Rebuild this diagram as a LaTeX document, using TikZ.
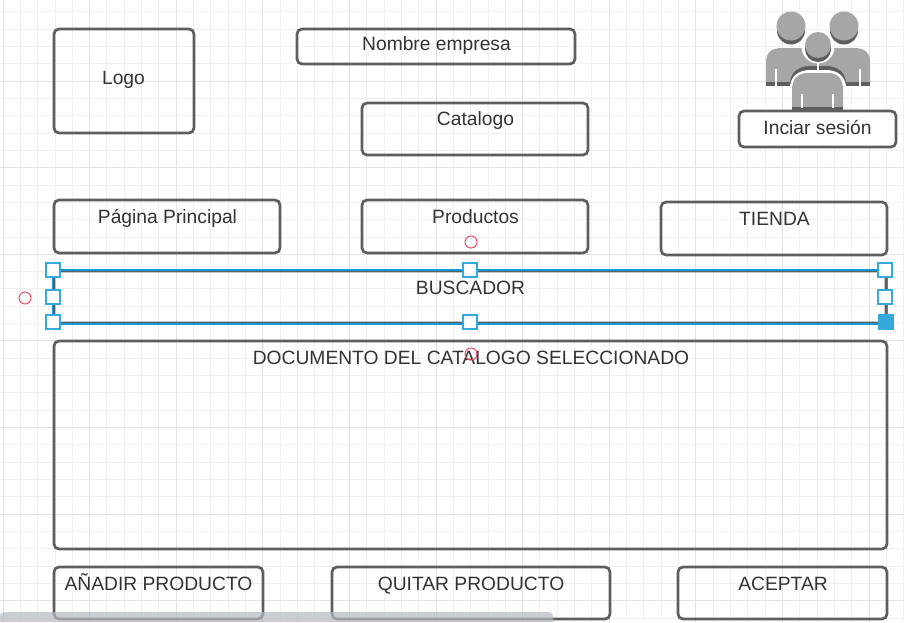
\documentclass[tikz,border=0pt]{standalone}
\usepackage{fontspec}
\setmainfont{Liberation Sans}
\definecolor{boxgray}{HTML}{5E5E5E}
\definecolor{icongray}{HTML}{A6A6A6}
\definecolor{selblue}{HTML}{0F9AD7}
\definecolor{rotred}{HTML}{E8526C}
\definecolor{scrollgray}{HTML}{B4B8BE}
\tikzset{
	panel/.style={draw=boxgray, line width=2.7pt, rounded corners=5pt, inner sep=0pt},
	caption/.style={text=black!80, font=\fontsize{19.25}{22}\selectfont, inner sep=0pt, anchor=base},
	handle/.style={draw=selblue!85, fill=white, line width=1.7pt, minimum size=14pt, inner sep=0pt},
	rotor/.style={circle, draw=rotred, line width=1pt, minimum size=12pt, inner sep=0pt},
}
\begin{document}
\begin{tikzpicture}[x=1pt,y=-1pt]
	\useasboundingbox (0,0) rectangle (904,622);
	\fill[white] (0,0) rectangle (904,622);

	% grid
	\foreach \i in {0,...,52} {
		\draw[black!6, line width=0.9pt] ({3+17.32*\i},0) -- ++(0,622);
	}
	\foreach \i in {0,...,36} {
		\draw[black!6, line width=0.9pt] (0,{-5.5+17.32*\i}) -- ++(904,0);
	}
	\foreach \i in {0,...,10} {
		\draw[black!11, line width=1pt] ({3+86.6*\i},0) -- ++(0,622);
	}
	\foreach \i in {0,...,7} {
		\draw[black!11, line width=1pt] (0,{-5.5+86.6*\i}) -- ++(904,0);
	}

	% people icon, back
	\fill[boxgray] (791,30.5) circle (14);
	\fill[icongray] (791,26) circle (14.5);
	\fill[boxgray] (844,30.5) circle (14);
	\fill[icongray] (844,26) circle (14.5);
	\fill[icongray] (766,82) -- (766,62) .. controls (766,52) and (772,48) .. (782,48) -- (854,48) .. controls (864,48) and (870,52) .. (870,62) -- (870,82) -- cycle;
	\fill[boxgray] (766,82) rectangle (870,86);
	\draw[white, line width=1.4pt] (776,69) -- (776,86);
	\draw[white, line width=1.4pt] (860,69) -- (860,86);
	\fill[boxgray] (790,86) -- (790,82) .. controls (791,72) and (799,66) .. (810,66) -- (826,66) .. controls (837,66) and (845,72) .. (846,82) -- (846,86) -- cycle;
	\fill[white] (790,86.5) -- (790,86) .. controls (791,76) and (799,70) .. (810,70) -- (826,70) .. controls (837,70) and (845,76) .. (846,86) -- (846,86.5) -- cycle;

	% people icon, front
	\fill[white] (818,47) circle (16.5);
	\draw[white, line width=1.4pt] (818,60) -- (818,71);
	\fill[boxgray] (818,49) circle (13);
	\fill[icongray] (818,45) circle (13);
	\fill[icongray] (792,107) -- (792,90) .. controls (792,79) and (798,73) .. (808,73) -- (828,73) .. controls (838,73) and (843,79) .. (843,90) -- (843,107) -- cycle;
	\fill[boxgray] (792,107) rectangle (843,112);
	\draw[white, line width=1.4pt] (802,94) -- (802,107.5);
	\draw[white, line width=1.4pt] (833,94) -- (833,107.5);

	% top row
	\node[panel, minimum width=140pt, minimum height=104pt] (logo) at (124,81) {};
	\node[caption] (logotext) at (123.5,84.5) {Logo};
	\node[panel, minimum width=278pt, minimum height=35pt] (empresa) at (436,46.5) {};
	\node[caption] (empresatext) at (436.5,50.5) {Nombre empresa};
	\node[panel, minimum width=226pt, minimum height=52pt] (catalogo) at (475,129) {};
	\node[caption] (catalogotext) at (475.5,125) {Catalogo};
	\node[panel, fill=white, minimum width=157pt, minimum height=36pt] (sesion) at (817.5,129) {};
	\node[caption] (sesiontext) at (817.5,134) {Inciar sesión};

	% menu row
	\node[panel, minimum width=226pt, minimum height=53pt] (principal) at (167,226.5) {};
	\node[caption] (principaltext) at (167.5,223) {Página Principal};
	\node[panel, minimum width=226pt, minimum height=53pt] (productos) at (475,226.5) {};
	\node[caption] (productostext) at (475.5,223) {Productos};
	\node[panel, minimum width=226pt, minimum height=53pt] (tienda) at (774,228.5) {};
	\node[caption] (tiendatext) at (774.5,225.5) {TIENDA};

	% selected search box
	\node[panel, minimum width=832pt, minimum height=52pt] (buscador) at (470,297) {};
	\node[caption] (buscadortext) at (470.5,294.5) {BUSCADOR};
	\draw[selblue, line width=1.8pt] (buscador.north west) -- (buscador.north east);
	\draw[selblue, line width=1.8pt] ([yshift=0.4pt]buscador.south west) -- ([yshift=0.4pt]buscador.south east);
	\draw[selblue, line width=1.2pt] (buscador.north west) -- (buscador.south west);
	\draw[selblue, line width=1.2pt] (buscador.north east) -- (buscador.south east);
	\node[handle] (hnw) at (53,270) {};
	\node[handle] (hn) at (470,270) {};
	\node[handle] (hne) at (885,270) {};
	\node[handle] (hw) at (53,297) {};
	\node[handle] (he) at (885,297) {};
	\node[handle] (hsw) at (53,322) {};
	\node[handle] (hs) at (470,322) {};
	\node[handle, fill=selblue!85] (hse) at (886,322) {};

	% document
	\node[panel, minimum width=833pt, minimum height=208pt] (documento) at (470.5,445) {};
	\node[caption] (documentotext) at (471,364) {DOCUMENTO DEL CATALOGO SELECCIONADO};

	\node[rotor] (rotortop) at (471,242) {};
	\node[rotor] (rotorleft) at (25,298) {};
	\node[rotor] (rotordoc) at (471,354) {};

	% bottom row
	\node[panel, minimum width=209pt, minimum height=52pt] (anadir) at (158.5,593) {};
	\node[caption] (anadirtext) at (158.5,590) {AÑADIR PRODUCTO};
	\node[panel, minimum width=278pt, minimum height=52pt] (quitar) at (471,593) {};
	\node[caption] (quitartext) at (471,590) {QUITAR PRODUCTO};
	\node[panel, minimum width=209pt, minimum height=52pt] (aceptar) at (782.5,593) {};
	\node[caption] (aceptartext) at (783,590) {ACEPTAR};

	% scroll bar
	\fill[scrollgray, opacity=0.7] (0,622) -- (0,616) .. controls (0,614) and (2,612) .. (4,612) -- (549,612) .. controls (551,612) and (553,614) .. (553,616) -- (553,622) -- cycle;
\end{tikzpicture}
\end{document}
